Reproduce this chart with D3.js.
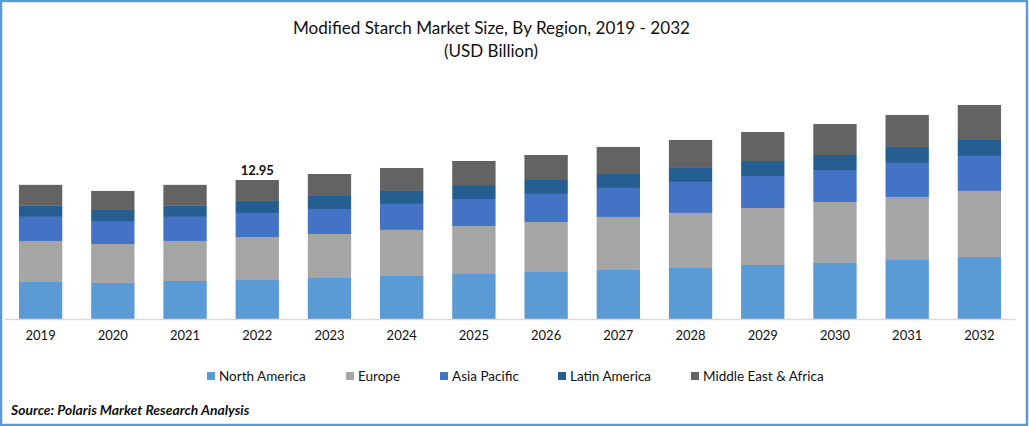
<!DOCTYPE html>
<html><head><meta charset="utf-8">
<script src="https://cdn.jsdelivr.net/npm/d3@7/dist/d3.min.js"></script>
<style>html,body{margin:0;padding:0;background:#fff}svg{display:block}text{font-family:Lato,"Open Sans",sans-serif;fill:#111}</style>
</head><body><svg id="c" width="1029" height="426"></svg>
<script>
const years = ["2019","2020","2021","2022","2023","2024","2025","2026","2027","2028","2029","2030","2031","2032"];
const seriesNames = ["North America","Europe","Asia Pacific","Latin America","Middle East & Africa"];
const northAmerica = [3.45,3.36,3.54,3.63,3.82,4.01,4.19,4.38,4.57,4.75,5.03,5.22,5.50,5.78];
const europe = [3.82,3.63,3.73,4.01,4.10,4.29,4.47,4.66,4.94,5.13,5.31,5.68,5.87,6.15];
const asiaPacific = [2.24,2.14,2.24,2.24,2.33,2.42,2.52,2.61,2.70,2.89,2.98,2.98,3.17,3.26];
const latinAmerica = [1.03,1.03,1.03,1.12,1.21,1.21,1.30,1.30,1.30,1.30,1.40,1.40,1.49,1.49];
const middleEastAfrica = [1.96,1.77,1.96,1.95,2.05,2.14,2.24,2.33,2.52,2.61,2.70,2.89,2.98,3.26];
const colors = ["#5b9bd5","#a5a5a5","#4472c4","#255e91","#636363"];
const annotatedYear = "2022", annotatedLabel = "12.95";

const rows = years.map((y,i)=>({year:y,"North America":northAmerica[i],"Europe":europe[i],"Asia Pacific":asiaPacific[i],"Latin America":latinAmerica[i],"Middle East & Africa":middleEastAfrica[i]}));
const svg = d3.select("#c");
const baseY = 319;
const x = d3.scaleBand().domain(years).range([4.5,1015.5]).paddingInner(0.4).paddingOuter(0.2);
const y = d3.scaleLinear().domain([0,12.95]).range([baseY,180]);
const color = d3.scaleOrdinal(seriesNames,colors);
const stack = d3.stack().keys(seriesNames)(rows);

svg.append("g").selectAll("g").data(stack).join("g").attr("fill",d=>color(d.key))
  .selectAll("rect").data(d=>d).join("rect")
  .attr("x",d=>x(d.data.year)).attr("width",x.bandwidth())
  .attr("y",d=>y(d[1])).attr("height",d=>y(d[0])-y(d[1]));

const axis = svg.append("g").attr("transform",`translate(0,${baseY})`).call(d3.axisBottom(x).tickSize(0).tickPadding(12));
axis.select(".domain").attr("stroke","#d9d9d9").attr("stroke-width",1.5);
axis.selectAll("text").style("font-family","Lato").style("font-size","13px").attr("fill","#111");

svg.append("text").attr("x",x(annotatedYear)+x.bandwidth()/2).attr("y",175).attr("text-anchor","middle")
  .style("font-size","13px").style("font-weight","700").text(annotatedLabel);

svg.append("text").attr("x",491.5).attr("y",34).attr("text-anchor","middle").style("font-size","17.1px").text("Modified Starch Market Size, By Region, 2019 - 2032");
svg.append("text").attr("x",491).attr("y",57).attr("text-anchor","middle").style("font-size","17px").text("(USD Billion)");

const legendX = [207,346,440,558,691];
const lg = svg.append("g").selectAll("g").data(seriesNames).join("g").attr("transform",(d,i)=>`translate(${legendX[i]},377)`);
lg.append("rect").attr("y",-5).attr("width",8).attr("height",8).attr("fill",d=>color(d));
lg.append("text").attr("x",12).attr("y",4).style("font-size","13.5px").text(d=>d);

svg.append("text").attr("x",11).attr("y",415).style("font-size","13.9px").style("font-weight","700").style("font-style","italic").attr("fill","#000").text("Source: Polaris  Market Research Analysis");

svg.append("rect").attr("x",1).attr("y",1).attr("width",1026).attr("height",424).attr("fill","none").attr("stroke","#5b9bd5").attr("stroke-width",2.5);
</script></body></html>
